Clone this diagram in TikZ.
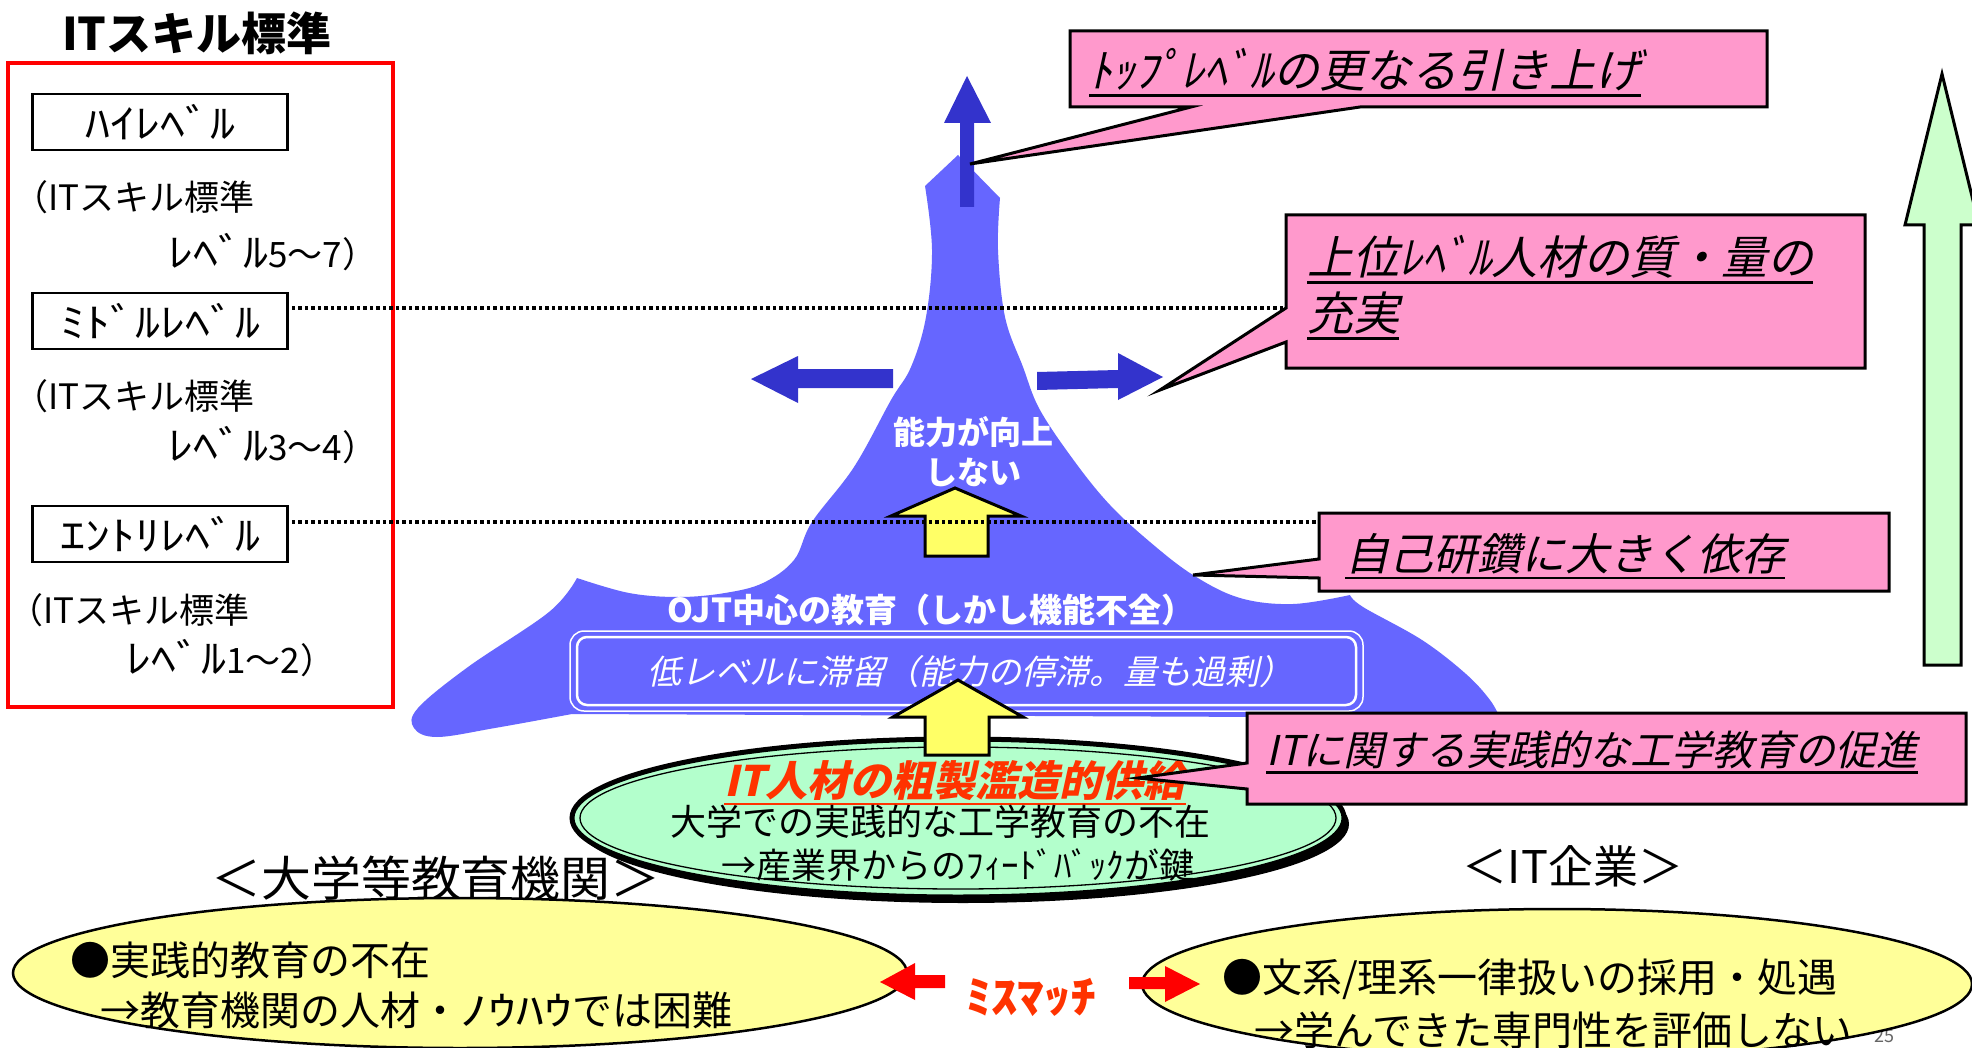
\documentclass[tikz,border=0pt]{standalone}
\usepackage{fontspec}
\usepackage{graphicx}
\setmainfont{Noto Sans CJK JP}
\newfontfamily\jpsl{Noto Sans CJK JP}[FakeSlant=0.22]
\usetikzlibrary{shapes.geometric}
\definecolor{blueM}{HTML}{6666FF}
\definecolor{blueD}{HTML}{3333CC}
\definecolor{pinkC}{HTML}{FF99CC}
\definecolor{yellowA}{HTML}{FFFF66}
\definecolor{yellowE}{HTML}{FFFF99}
\definecolor{greenE}{HTML}{B3FFCC}
\definecolor{greenA}{HTML}{CCFFCC}
\definecolor{orangeR}{HTML}{FF3300}
\newcommand\fsz[1]{\fontsize{#1}{#1}\selectfont}
\newcommand\hk[1]{{\fsz{40}\scalebox{1.25}[1]{#1}}}
\newcommand\ulx[1]{\setbox0\hbox{#1}\rlap{\smash{\rule[-0.2em]{\wd0}{0.06em}}}\box0}
\tikzset{
  lvl/.style={draw=black, line width=2.5, fill=white, minimum width=255, minimum height=56, inner sep=0, font=\fsz{35}},
  lt/.style={anchor=west, inner sep=0, font=\fsz{35}},
  callout/.style={fill=pinkC, draw=black, line width=3, line join=miter},
  ctext/.style={anchor=west, inner sep=0, font=\jpsl\fsz{46}},
  wt/.style={text=white, inner sep=0},
  yarrow/.style={fill=yellowA, draw=black, line width=3, line join=miter},
  dotline/.style={line width=3.5, dash pattern=on 3.5 off 3},
  bt/.style={inner sep=0, font=\fsz{40}}
}
\begin{document}
\begin{tikzpicture}[x=1pt,y=-1pt]
\useasboundingbox (0,0) rectangle (1972,1048);
\fill[white] (0,0) rectangle (1972,1048);

% ---- left panel ----
\node[inner sep=0, font=\bfseries\fsz{45}] (title) at (197,33) {ITスキル標準};
\draw[red, line width=4] (8,63) rectangle (393,707);
\node[lvl] (hi) at (160,122) {\hk{ﾊｲﾚﾍﾞﾙ}};
\node[lvl] (mid) at (160,321) {\hk{ﾐﾄﾞﾙﾚﾍﾞﾙ}};
\node[lvl] (ent) at (160,534) {\hk{ｴﾝﾄﾘﾚﾍﾞﾙ}};
\node[lt] (hi1) at (13,197) {（ITスキル標準};
\node[lt] (hi2) at (168,252) {\hk{ﾚﾍﾞﾙ}5～7）};
\node[lt] (mid1) at (13,396) {（ITスキル標準};
\node[lt] (mid2) at (168,445) {\hk{ﾚﾍﾞﾙ}3～4）};
\node[lt] (ent1) at (8,610) {（ITスキル標準};
\node[lt] (ent2) at (126,658) {\hk{ﾚﾍﾞﾙ}1～2）};

% ---- blue mountain ----
\fill[blueM] (958,155)
  -- plot[smooth, tension=0.6] coordinates {(1000,198) (998,250) (1005,317) (1023,367) (1040,410) (1075,462) (1110,505) (1150,542) (1193,575) (1240,598) (1293,604) (1350,595)}
  -- plot[smooth, tension=0.6] coordinates {(1350,595) (1363,607) (1422,640) (1466,674) (1490,700) (1500,718)}
  -- (572,714)
  -- plot[smooth, tension=0.6] coordinates {(572,714) (495,728) (437,737) (414,728) (418,708) (468,667) (549,612) (577,578)}
  -- plot[smooth, tension=0.6] coordinates {(577,578) (629,593) (679,597) (725,593) (763,583) (794,560) (812,522) (854,467) (891,400) (911,367) (926,317) (932,250) (925,186)}
  -- cycle;

% blue arrows
\fill[blueD] (960,207) -- (960,123) -- (944,123) -- (967,76) -- (991,123) -- (974,123) -- (974,207) -- cycle;
\fill[blueD] (893,369) -- (798,369) -- (798,356) -- (751,379) -- (798,403) -- (798,388) -- (893,388) -- cycle;
\fill[blueD] (1037,372) -- (1118,370) -- (1118,353) -- (1163,377) -- (1118,400) -- (1118,388) -- (1037,390) -- cycle;

% double rounded box
\draw[white, line width=1.5, rounded corners=14, fill=blueM] (570,631) rectangle (1363,711);
\draw[white, line width=2.5, rounded corners=10] (577,637) rectangle (1356,705);
\node[wt, font=\jpsl\fsz{34}] (low) at (970,672) {低レベルに滞留（能力の停滞。量も過剰）};
\node[wt, font=\bfseries\fsz{33}] (ojt) at (931,610) {OJT中心の教育（しかし機能不全）};
\node[wt, font=\bfseries\fsz{32}] (nou1) at (973,432) {能力が向上};
\node[wt, font=\bfseries\fsz{32}] (nou2) at (973,472) {しない};

% upper yellow arrow
\draw[yarrow] (925,556) -- (925,516) -- (891,516) -- (955,488) -- (1021,516) -- (988,516) -- (988,556) -- cycle;

% ---- green ellipse ----
\node[ellipse, fill=black, minimum width=772, minimum height=158, inner sep=0] (gsh) at (963,824) {};
\node[ellipse, fill=greenE, draw=black, line width=5, minimum width=772, minimum height=158, inner sep=0] (gell) at (958,818) {};
\node[ellipse, draw=black, line width=1.3, minimum width=756, minimum height=142, inner sep=0] (gin) at (958,818) {};
\draw[yarrow] (925,755) -- (925,717) -- (893,717) -- (958,680) -- (1023,717) -- (989,717) -- (989,755) -- cycle;
\node[inner sep=0, text=orangeR, font=\jpsl\bfseries\fsz{42}] (sup) at (955,781) {\ulx{IT人材の粗製濫造的供給}};
\node[inner sep=0, font=\fsz{36}] (g2) at (940,822) {大学での実践的な工学教育の不在};
\node[inner sep=0, font=\fsz{35}] (g3) at (958,865) {→産業界からのﾌｨｰﾄﾞﾊﾞｯｸが鍵};

% ---- dotted lines ----
\draw[dotline] (mid.east) ++(3,-13) -- (1286,308);
\draw[dotline] (ent.east) ++(3,-12) -- (1319,522);

% ---- callouts ----
\draw[callout] (1070,31) -- (1767,31) -- (1767,107) -- (1360,107) -- (970,164) -- (1191,107) -- (1070,107) -- cycle;
\node[ctext] (c1) at (1089,70) {\ulx{ﾄｯﾌﾟﾚﾍﾞﾙの更なる引き上げ}};
\draw[callout] (1286,215) -- (1865,215) -- (1865,368) -- (1286,368) -- (1286,342) -- (1160,390) -- (1286,308) -- cycle;
\node[ctext] (c2a) at (1307,257) {\ulx{上位ﾚﾍﾞﾙ人材の質・量の}};
\node[ctext] (c2b) at (1307,313) {\ulx{充実}};
\draw[callout] (1319,513) -- (1889,513) -- (1889,591) -- (1319,591) -- (1319,578) -- (1193,575) -- (1319,559) -- cycle;
\node[ctext, font=\jpsl\fsz{44}] (c3) at (1345,554) {\ulx{自己研鑽に大きく依存}};
\draw[callout] (1247,713) -- (1966,713) -- (1966,804) -- (1247,804) -- (1247,789) -- (1138,778) -- (1247,763) -- cycle;
\node[ctext, font=\jpsl\fsz{41}] (c4) at (1266,750) {\ulx{ITに関する実践的な工学教育の促進}};

% ---- right green arrow ----
\draw[fill=greenA, draw=black, line width=3, line join=miter] (1924,665) -- (1924,225) -- (1905,225) -- (1942,74) -- (1979,225) -- (1961,225) -- (1961,665) -- cycle;

% ---- bottom ----
\node[inner sep=0, text=black!60, font=\fsz{18}] (pg) at (1884,1036) {25};
\node[inner sep=0, font=\fsz{48}] (univ) at (436,878) {\scalebox{1.04}[1]{＜大学等教育機関＞}};
\node[inner sep=0, font=\fsz{45}] (itco) at (1573,866) {＜IT企業＞};
\node[ellipse, fill=yellowE, draw=black, line width=2.5, minimum width=894, minimum height=150, inner sep=0] (ye1) at (460,973) {};
\node[ellipse, fill=yellowE, draw=black, line width=2.5, minimum width=830, minimum height=150, inner sep=0] (ye2) at (1557,984) {};
\node[bt, anchor=west] (y1a) at (70,960) {●実践的教育の不在};
\node[bt, anchor=west] (y1b) at (100,1010) {→教育機関の人材・\scalebox{1.4}[1]{ﾉｳﾊｳ}では困難};
\node[bt, anchor=west] (y2a) at (1222,979) {●文系/理系一律扱いの採用・処遇};
\node[bt, anchor=west] (y2b) at (1254,1030) {→学んできた専門性を評価しない};
\fill[red] (945,975) -- (915,975) -- (915,963) -- (880,982) -- (915,1000) -- (915,988) -- (945,988) -- cycle;
\fill[red] (1129,977) -- (1165,977) -- (1165,966) -- (1200,984) -- (1165,1002) -- (1165,989) -- (1129,989) -- cycle;
\node[inner sep=0, text=orangeR, font=\bfseries\fsz{44}] (mis) at (1031,997) {\scalebox{1.2}[1]{ﾐｽﾏｯﾁ}};
\end{tikzpicture}
\end{document}
